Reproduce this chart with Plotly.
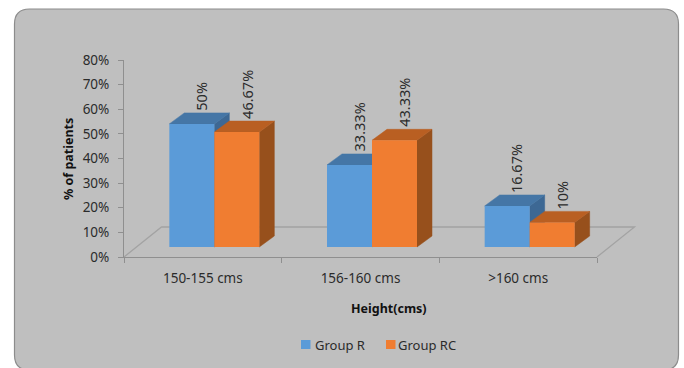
import plotly.graph_objects as go

categories = ["150-155 cms", "156-160 cms", ">160 cms"]
series_names = ["Group R", "Group RC"]
group_r = [50, 33.33, 16.67]
group_rc = [46.67, 43.33, 10]
label_r = ["50%", "33.33%", "16.67%"]
label_rc = ["46.67%", "43.33%", "10%"]

W, H = 684, 368
PLOT_L, PLOT_R, PLOT_T, PLOT_B = 124, 597, 60, 257
PX_X = (PLOT_R - PLOT_L) / 3          # pixels per category
PX_Y = (PLOT_B - PLOT_T) / 80         # pixels per percent

BAR_W = 45 / PX_X                     # bar width, category units
BAR_SHIFT = 11.5 / PX_X               # pair sits right of the slot centre
BAR_BASE = 10 / PX_Y                  # front faces stand forward of the wall
DX, DY = 15 / PX_X, 11 / PX_Y         # bar extrusion

TEXT = "#2b2b2b"
FONT = "Noto Sans"
BLUE = dict(front="#5b9bd8", top="#4576a6", side="#3d6894")
ORANGE = dict(front="#f07d31", top="#b95f22", side="#97501c")


def px(x):
    """Pixel column to a fraction of the plot area."""
    return (x - PLOT_L) / (PLOT_R - PLOT_L)


def py(y):
    """Pixel row to a fraction of the plot area."""
    return (PLOT_B - y) / (PLOT_B - PLOT_T)


def extrusion(values, left_offset):
    """Side and top polygons for one series, separated by gaps."""
    sx, sy, tx, ty = [], [], [], []
    for i, v in enumerate(values):
        x0 = i + left_offset
        x1 = x0 + BAR_W
        y0 = BAR_BASE
        y1 = BAR_BASE + v
        sx += [x1, x1 + DX, x1 + DX, x1, x1, None]
        sy += [y0, y0 + DY, y1 + DY, y1, y0, None]
        tx += [x0, x0 + DX, x1 + DX, x1, x0, None]
        ty += [y1, y1 + DY, y1 + DY, y1, y1, None]
    return sx, sy, tx, ty


def face(x, y, color):
    return go.Scatter(
        x=x, y=y, mode="lines", fill="toself", fillcolor=color,
        line=dict(color=color, width=0.5), showlegend=False, hoverinfo="skip",
        xaxis="x", yaxis="y",
    )


fig = go.Figure()

# Extruded faces sit on the lower subplot, so front faces cover them
for values, offset, colors in (
    (group_r, BAR_SHIFT - BAR_W, BLUE),
    (group_rc, BAR_SHIFT, ORANGE),
):
    sx, sy, tx, ty = extrusion(values, offset)
    fig.add_trace(face(sx, sy, colors["side"]))
    fig.add_trace(face(tx, ty, colors["top"]))

# Front faces
for name, values, offset, colors in (
    (series_names[0], group_r, BAR_SHIFT - BAR_W, BLUE),
    (series_names[1], group_rc, BAR_SHIFT, ORANGE),
):
    fig.add_trace(go.Bar(
        name=name, x=categories, y=values, base=BAR_BASE, width=BAR_W,
        offset=offset, marker=dict(color=colors["front"], line=dict(width=0)),
        xaxis="x2", yaxis="y", hoverinfo="skip", showlegend=False,
    ))

# Rotated value labels above each bar
annotations = []
for values, labels, offset in (
    (group_r, label_r, BAR_SHIFT - BAR_W),
    (group_rc, label_rc, BAR_SHIFT),
):
    for i, (v, t) in enumerate(zip(values, labels)):
        annotations.append(dict(
            x=i + offset + BAR_W / 2 + DX / 2, y=BAR_BASE + v + DY,
            xref="x", yref="y", text=t, showarrow=False, textangle=-90,
            xanchor="center", yanchor="bottom", yshift=0, xshift=2,
            font=dict(family=FONT, size=14.5, color=TEXT),
        ))

# Axis titles
annotations += [
    dict(x=px(68), y=py(159), xref="paper", yref="paper", text="<b>% of patients</b>",
         xanchor="center", yanchor="middle", textangle=-90, showarrow=False,
         font=dict(family=FONT, size=12.5, color="#111111")),
    dict(x=px(389), y=py(308), xref="paper", yref="paper", text="<b>Height(cms)</b>",
         xanchor="center", yanchor="middle", showarrow=False,
         font=dict(family=FONT, size=12.5, color="#111111")),
]

# Key below the chart
key_shapes = []
for name, colors, swatch_x, text_x in (
    (series_names[0], BLUE, 301, 315),
    (series_names[1], ORANGE, 386, 398),
):
    key_shapes.append(dict(
        type="rect", xref="paper", yref="paper", x0=px(swatch_x), x1=px(swatch_x + 9.5),
        y0=py(349), y1=py(340), fillcolor=colors["front"], line=dict(width=0), layer="above",
    ))
    annotations.append(dict(
        x=px(text_x), y=py(345), xref="paper", yref="paper", text=name, showarrow=False,
        xanchor="left", yanchor="middle", xshift=-2,
        font=dict(family=FONT, size=13, color=TEXT),
    ))

# Rounded panel behind the chart
L, R, T, B, C = 14.5, 678.5, 9, 370, 15
panel = (
    f"M {px(L)} {py(T + C)} Q {px(L)} {py(T)} {px(L + C)} {py(T)} "
    f"L {px(R - C)} {py(T)} Q {px(R)} {py(T)} {px(R)} {py(T + C)} "
    f"L {px(R)} {py(B - C)} Q {px(R)} {py(B)} {px(R - C)} {py(B)} "
    f"L {px(L + C)} {py(B)} Q {px(L)} {py(B)} {px(L)} {py(B - C)} Z"
)

# Floor of the 3D box, running out past the last tick
floor_dx, floor_dy = 37.5, 30
floor = (
    f"M {px(PLOT_L)} {py(PLOT_B)} L {px(PLOT_L + floor_dx)} {py(PLOT_B - floor_dy)} "
    f"L {px(PLOT_R + floor_dx)} {py(PLOT_B - floor_dy)} L {px(PLOT_R)} {py(PLOT_B)}"
)

axis_line = "#8f8f8f"
fig.update_layout(
    width=W, height=H,
    margin=dict(l=PLOT_L, r=W - PLOT_R, t=PLOT_T, b=H - PLOT_B, pad=0),
    paper_bgcolor="#ffffff",
    plot_bgcolor="rgba(0,0,0,0)",
    barmode="overlay",
    showlegend=False,
    font=dict(family=FONT, color=TEXT, size=13),
    shapes=[
        dict(type="path", path=panel, xref="paper", yref="paper", layer="below",
             fillcolor="#bfbfbf", line=dict(color="#8c8c8c", width=1.2)),
        dict(type="path", path=floor, xref="paper", yref="paper", layer="below",
             line=dict(color="#a3a3a3", width=1.3)),
    ] + key_shapes,
    annotations=annotations,
    xaxis=dict(range=[-0.5, 2.5], visible=False, fixedrange=True),
    xaxis2=dict(
        overlaying="x", anchor="y", side="bottom",
        type="category", categoryorder="array", categoryarray=categories,
        range=[-0.5, 2.5], tickson="boundaries", ticks="outside", ticklen=5,
        tickcolor=axis_line, linecolor=axis_line, showline=True, showgrid=False,
        tickfont=dict(family=FONT, size=13.5, color=TEXT), zeroline=False,
        ticklabelstandoff=9,
    ),
    yaxis=dict(
        range=[0, 80], tick0=0, dtick=10,
        ticksuffix="%", ticks="outside", ticklen=5, tickcolor=axis_line,
        linecolor=axis_line, showline=True, showgrid=False, zeroline=False,
        tickfont=dict(family=FONT, size=13.5, color=TEXT), ticklabelstandoff=6,
    ),
)

fig.write_html("out.html", config=dict(displayModeBar=False))
